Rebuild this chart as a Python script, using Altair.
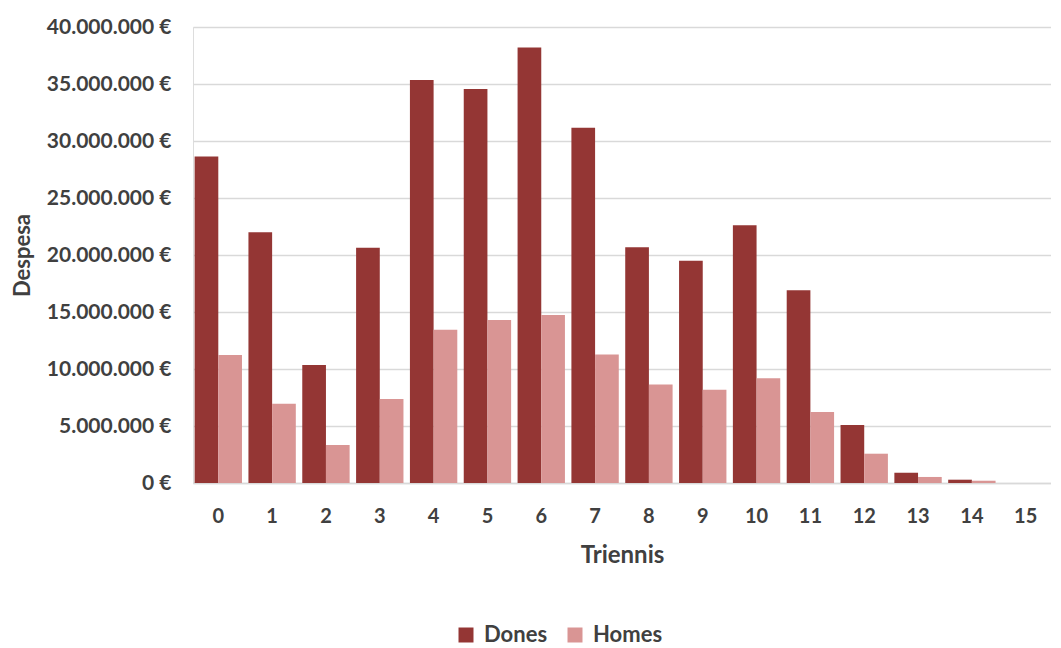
import altair as alt
import pandas as pd

triennis = list(range(16))
dones = [28.65, 22.0, 10.35, 20.64, 35.35, 34.56, 38.2, 31.17, 20.67, 19.5, 22.6, 16.9, 5.09, 0.9, 0.29, 0.0]
homes = [11.23, 6.96, 3.33, 7.37, 13.45, 14.3, 14.74, 11.28, 8.65, 8.18, 9.18, 6.23, 2.57, 0.53, 0.2, 0.0]
series = ["Dones", "Homes"]
colors = ["#943634", "#D99594"]

rows = []
for t, d, h in zip(triennis, dones, homes):
    rows.append({"Triennis": str(t), "Sexe": "Dones", "Despesa": d * 1e6})
    rows.append({"Triennis": str(t), "Sexe": "Homes", "Despesa": h * 1e6})
df = pd.DataFrame(rows)

FONT = "Lato"
TXT = "#404040"

chart = alt.Chart(df).mark_bar().encode(
    x=alt.X("Triennis:N", sort=[str(t) for t in triennis],
            scale=alt.Scale(paddingInner=0.12, paddingOuter=0.03),
            axis=alt.Axis(title="Triennis", labelAngle=0, labelFontSize=20, labelFont=FONT,
                          labelFontWeight="bold", labelColor=TXT, labelPadding=23,
                          titleFontSize=24, titleFont=FONT, titleFontWeight="bold",
                          titleColor=TXT, titlePadding=17, ticks=False, domain=True,
                          domainColor="#D9D9D9", domainWidth=1.5)),
    xOffset=alt.XOffset("Sexe:N", sort=series),
    y=alt.Y("Despesa:Q", scale=alt.Scale(domain=[0, 40000000]),
            axis=alt.Axis(title="Despesa", values=[i * 5000000 for i in range(9)],
                          labelExpr="replace(format(datum.value, ',d'), /,/g, '.') + ' €'",
                          labelFontSize=21, labelFont=FONT, labelFontWeight="bold",
                          labelColor=TXT, labelPadding=22, ticks=False, domain=False,
                          titleFontSize=22, titleFont=FONT, titleFontWeight="bold",
                          titleColor=TXT, titlePadding=12,
                          gridColor="#D9D9D9", gridWidth=1.5)),
    color=alt.Color("Sexe:N", sort=series,
                    scale=alt.Scale(domain=series, range=colors),
                    legend=alt.Legend(title=None, orient="none", direction="horizontal",
                                      legendX=262, legendY=597, symbolType="square",
                                      symbolSize=225, symbolStrokeWidth=0,
                                      labelFontSize=22, labelFont=FONT,
                                      labelFontWeight="bold", labelColor=TXT,
                                      columnPadding=16, labelOffset=7, padding=0)),
).properties(
    width=858, height=456, padding={"left": 3, "top": 8, "right": 0, "bottom": 0}
).configure_view(stroke=None).configure(background="white")

chart.save("out.html", embed_options={"renderer": "svg", "actions": False})
